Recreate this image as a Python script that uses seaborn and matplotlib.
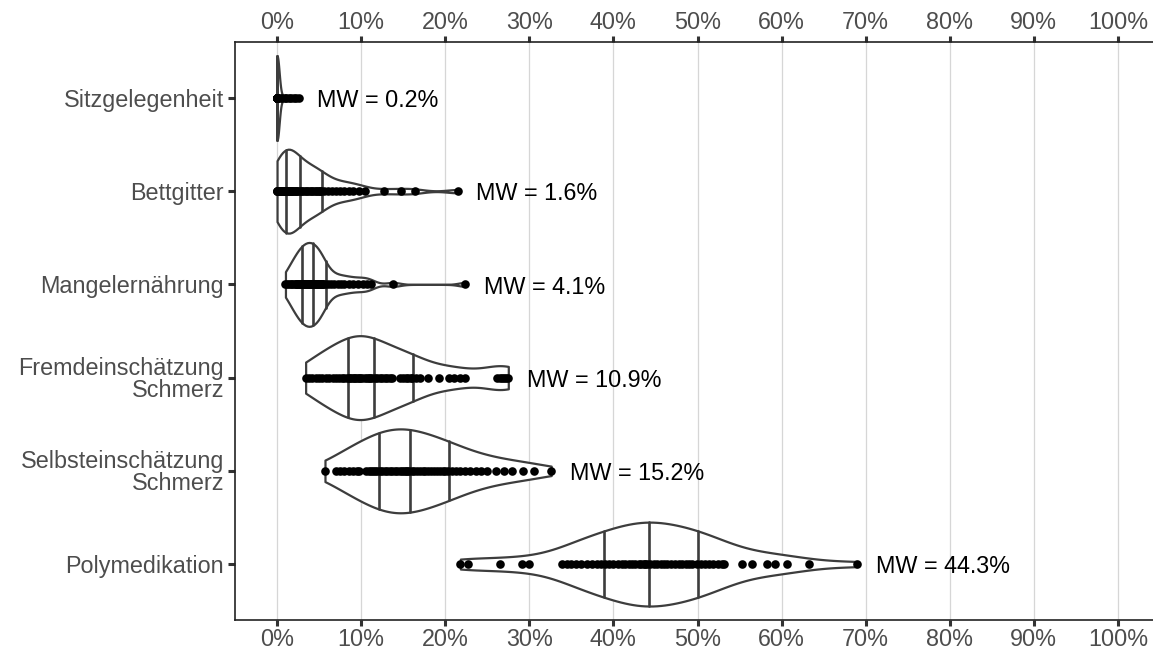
import numpy as np
import pandas as pd
import matplotlib
matplotlib.use("Agg")
import matplotlib.pyplot as plt
import seaborn as sns

# ---- data (percent per facility) ----
categories = ["Sitzgelegenheit", "Bettgitter", "Mangelernährung",
              "Fremdeinschätzung\nSchmerz", "Selbsteinschätzung\nSchmerz", "Polymedikation"]
mean_labels = ["MW = 0.2%", "MW = 1.6%", "MW = 4.1%", "MW = 10.9%", "MW = 15.2%", "MW = 44.3%"]

sitzgelegenheit = [0, 0, 0, 0, 0, 0, 0, 0, 0, 0, 0, 0, 0, 0, 0, 0,
                   0, 0, 0, 0, 0, 0, 0, 0, 0, 0, 0, 0, 0, 0, 0, 0,
                   0, 0, 0, 0, 0, 0, 0, 0, 0, 0, 0, 0, 0, 0, 0,
                   0.3, 0.6, 0.9, 1.1, 1.4, 1.7, 2.0, 2.3, 2.6]
bettgitter = [0, 0, 0, 0.1, 0.2, 0.3, 0.4, 0.5, 0.6, 0.7, 0.8, 0.8, 0.9, 1.0,
              1.1, 1.2, 1.3, 1.4, 1.5, 1.6, 1.7, 1.8, 1.9, 2.0, 2.2, 2.3, 2.4, 2.6,
              2.8, 3.0, 3.2, 3.4, 3.6, 3.8, 4.0, 4.2, 4.4, 4.6, 4.8, 5.0, 5.1, 5.2,
              5.6, 6.0, 6.5, 7.0, 7.5, 8.0, 8.5, 9.0, 9.8, 10.5, 12.7, 14.7, 16.4, 21.5]
mangelernaehrung = [1.0, 1.2, 1.4, 1.6, 1.8, 2.0, 2.2, 2.3, 2.4, 2.5, 2.6, 2.7, 2.8, 2.95,
                    3.0, 3.1, 3.2, 3.3, 3.4, 3.5, 3.6, 3.7, 3.8, 3.85, 3.9, 4.0, 4.1, 4.2,
                    4.3, 4.4, 4.5, 4.6, 4.7, 4.8, 4.9, 5.0, 5.1, 5.2, 5.3, 5.4, 5.5, 5.7,
                    6.0, 6.4, 6.8, 7.2, 7.6, 8.0, 8.5, 9.0, 9.6, 10.2, 10.7, 11.2, 13.8, 22.4]
fremd_schmerz = [3.4, 3.8, 4.2, 4.6, 5.0, 5.4, 5.8, 6.2, 6.6, 7.0, 7.4, 7.7, 8.0, 8.3,
                 8.5, 8.7, 8.9, 9.1, 9.3, 9.5, 9.7, 9.9, 10.1, 10.4, 10.7, 10.9, 11.1, 11.35,
                 11.6, 11.9, 12.2, 12.5, 12.8, 13.1, 13.4, 13.7, 14.6, 15.0, 15.3, 15.6, 15.9, 16.1,
                 16.5, 17.0, 18.0, 19.2, 20.4, 21.0, 21.7, 22.4,
                 26.2, 26.5, 26.8, 27.0, 27.2, 27.5]
selbst_schmerz = [5.7, 7.0, 7.5, 8.0, 8.5, 9.0, 9.5, 9.8, 10.6, 10.9, 11.2, 11.4, 11.6, 11.9,
                  12.2, 12.5, 12.8, 13.1, 13.4, 13.7, 14.0, 14.3, 14.6, 14.9, 15.1, 15.3, 15.5, 15.7,
                  16.0, 16.3, 16.6, 17.0, 17.3, 17.6, 18.0, 18.3, 18.7, 19.0, 19.4, 19.7, 20.0, 20.3,
                  20.8, 21.3, 21.8, 22.4, 23.0, 23.6, 24.2, 25.0, 26.0, 27.0, 27.9, 29.2, 30.5, 32.6]
polymedikation = [21.8, 22.7, 26.5, 29.1, 30.0, 33.9, 34.5, 35.0, 35.6, 36.2, 36.8, 37.4, 38.0, 38.5,
                  39.0, 39.5, 40.0, 40.5, 41.0, 41.4, 41.8, 42.2, 42.6, 43.0, 43.3, 43.6, 43.8, 44.0,
                  44.4, 44.8, 45.2, 45.6, 46.0, 46.4, 46.8, 47.3, 47.8, 48.2, 48.6, 49.0, 49.4, 49.9,
                  50.4, 50.9, 51.4, 51.9, 52.4, 52.9, 53.2, 55.3, 56.5, 58.3, 59.2, 60.6, 63.2, 69.0]

series = [sitzgelegenheit, bettgitter, mangelernaehrung, fremd_schmerz, selbst_schmerz, polymedikation]
x_ticks = list(range(0, 101, 10))

df = pd.concat([pd.DataFrame({"kategorie": cat, "anteil": vals})
                for cat, vals in zip(categories, series)], ignore_index=True)


def ggplot_bw_adjust(vals):
    # scale seaborn's scott bandwidth to R's bw.nrd0
    v = np.asarray(vals, dtype=float)
    sd = v.std(ddof=1)
    q75, q25 = np.percentile(v, [75, 25])
    iqr = q75 - q25
    lo = min(sd, iqr / 1.34) if iqr > 0 else sd
    return 0.9 * lo / sd


sns.set_style("white")
plt.rcParams["font.family"] = ["Liberation Sans", "DejaVu Sans"]

line_col = "#3d3d3d"
text_grey = "#4d4d4d"
font_size = 16.8

fig = plt.figure(figsize=(11.53, 6.5), dpi=100)
ax = fig.add_axes([235 / 1153, 30 / 650, (1160 - 235) / 1153, (620 - 42) / 650])

for cat, vals in zip(categories, series):
    sub = df[df["kategorie"] == cat]
    sns.violinplot(data=sub, x="anteil", y="kategorie", order=categories, orient="h",
                   cut=0, density_norm="width", width=0.9, inner="quart",
                   bw_adjust=ggplot_bw_adjust(vals), color="white", saturation=1,
                   linecolor=line_col, linewidth=1.6, ax=ax)

# quartile lines solid like ggplot's draw_quantiles
for ln in ax.lines:
    ln.set_linestyle("-")
    ln.set_linewidth(1.9)
    ln.set_color(line_col)

sns.stripplot(data=df, x="anteil", y="kategorie", order=categories, orient="h",
              jitter=False, color="black", size=6.2, linewidth=0, zorder=4, ax=ax)

for i, (vals, lab) in enumerate(zip(series, mean_labels)):
    ax.text(max(vals) + 2.2, i + 0.03, lab, ha="left", va="center",
            fontsize=font_size, color="black")

ax.set_xlim(-5, 105)
ax.set_ylim(len(categories) - 0.4, -0.6)
ax.set_xticks(x_ticks)
ax.set_xticklabels([f"{t}%" for t in x_ticks])
ax.set_xlabel("")
ax.set_ylabel("")

ax.tick_params(axis="x", top=True, labeltop=True, bottom=True, labelbottom=True,
               direction="out", length=4.5, width=2.2, color="#333333",
               labelsize=font_size, labelcolor=text_grey, pad=1.5)
ax.tick_params(axis="y", left=True, direction="out", length=5, width=2.2, color="#333333",
               labelsize=font_size, labelcolor=text_grey, pad=3)
for lab in ax.get_yticklabels():
    lab.set_linespacing(0.95)

ax.grid(axis="x", color="#d6d6d6", linewidth=0.9)
ax.grid(axis="y", visible=False)
ax.set_axisbelow(True)

for side in ["left", "bottom", "top"]:
    ax.spines[side].set_color("#222222")
    ax.spines[side].set_linewidth(1.2)
ax.spines["right"].set_visible(False)

fig.savefig("out.png", dpi=100)
plt.close(fig)
